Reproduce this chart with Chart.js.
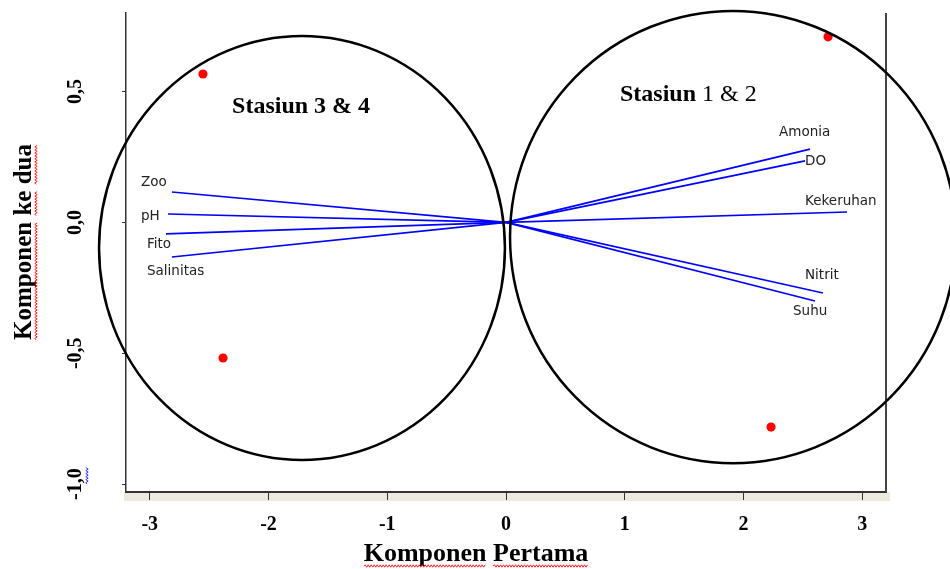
<!DOCTYPE html>
<html>
<head>
<meta charset="utf-8">
<script src="https://cdn.jsdelivr.net/npm/chart.js@4.4.1/dist/chart.umd.min.js"></script>
<style>
  html, body { margin: 0; padding: 0; background: #ffffff; }
  #wrap { width: 950px; height: 569px; }
</style>
</head>
<body>
<div id="wrap"><canvas id="biplot" width="950" height="569"></canvas></div>
<script>
// Loading vectors (arrow tips) of the water-quality variables on PC1 / PC2
const variables  = ['Zoo', 'pH', 'Fito', 'Salinitas', 'Amonia', 'DO', 'Kekeruhan', 'Nitrit', 'Suhu'];
const loadingPC1 = [-2.813, -2.846, -2.863, -2.813, 2.560, 2.518, 2.872, 2.669, 2.602];
const loadingPC2 = [0.116, 0.032, -0.044, -0.132, 0.280, 0.235, 0.040, -0.270, -0.300];

// Anchor (left edge, vertical middle) of each variable name
const labelPC1 = [-3.074, -3.074, -3.023, -3.023, 2.299, 2.518, 2.518, 2.518, 2.417];
const labelPC2 = [0.154, 0.024, -0.086, -0.186, 0.342, 0.234, 0.078, -0.201, -0.342];

// Station scores
const stationPC1 = [-2.552, 2.712, -2.383, 2.232];
const stationPC2 = [0.567, 0.709, -0.518, -0.782];

// Station groups: ellipse centre and half-axes, plus caption anchor
const groupWord    = 'Stasiun';
const groupIds     = ['3 & 4', '1 & 2'];
const groupIdBold  = [true, false];
const groupCenterX = [-1.718, 1.912];
const groupCenterY = [-0.098, -0.056];
const groupRadiusX = [1.709, 1.878];
const groupRadiusY = [0.810, 0.864];
const groupLabelX  = [-2.307, 0.960];
const groupLabelY  = [0.441, 0.487];

// Axes
const xTicks      = [-3, -2, -1, 0, 1, 2, 3];
const xTickLabels = ['-3', '-2', '-1', '0', '1', '2', '3'];
const yTicks      = [-1, -0.5, 0, 0.5];
const yTickLabels = ['-1,0', '-0,5', '0,0', '0,5'];
const xTitle = ['Komponen', 'Pertama'];
const yTitle = ['Komponen', 'ke', 'dua'];

const SERIF = '"Liberation Serif", "Times New Roman", serif';
const SANS  = '"DejaVu Sans", Verdana, sans-serif';

const vectorSets = variables.map((name, i) => ({
  type: 'line',
  label: name,
  data: [{ x: 0, y: 0 }, { x: loadingPC1[i], y: loadingPC2[i] }],
  borderColor: '#0000ff',
  borderWidth: 1.6,
  pointRadius: 0,
  showLine: true,
  fill: false,
  tension: 0,
  clip: false
}));

const stationSet = {
  type: 'scatter',
  label: 'Stasiun',
  data: stationPC1.map((x, i) => ({ x: x, y: stationPC2[i] })),
  backgroundColor: '#ff0000',
  borderColor: '#ff0000',
  borderWidth: 0,
  pointRadius: 4.6,
  clip: false
};

function squiggle(ctx, x0, x1, y, color) {
  ctx.save();
  ctx.beginPath();
  ctx.strokeStyle = color;
  ctx.lineWidth = 1;
  let up = true;
  ctx.moveTo(x0, y);
  for (let x = x0 + 1.5; x <= x1; x += 1.5) {
    ctx.lineTo(x, y + (up ? -1.2 : 1.2));
    up = !up;
  }
  ctx.stroke();
  ctx.restore();
}

function drawWords(ctx, words, cx, baseY, font, squiggleColor) {
  ctx.font = font;
  const space = ctx.measureText(' ').width;
  const widths = words.map(w => ctx.measureText(w).width);
  const total = widths.reduce((a, b) => a + b, 0) + space * (words.length - 1);
  let x = cx - total / 2;
  ctx.textAlign = 'left';
  ctx.textBaseline = 'alphabetic';
  ctx.fillStyle = '#000000';
  words.forEach((w, i) => {
    ctx.fillText(w, x, baseY);
    squiggle(ctx, x, x + widths[i], baseY + 5, squiggleColor);
    x += widths[i] + space;
  });
}

const decorations = {
  id: 'decorations',
  beforeDraw(chart) {
    const { ctx, chartArea: ca } = chart;
    ctx.save();
    ctx.fillStyle = '#ffffff';
    ctx.fillRect(0, 0, chart.width, chart.height);
    // shaded band carrying the x tick marks
    ctx.fillStyle = '#ece9df';
    ctx.fillRect(ca.left - 2, ca.bottom, ca.right - ca.left + 6, 9);
    ctx.restore();
  },
  afterDatasetsDraw(chart) {
    const { ctx, chartArea: ca } = chart;
    const xs = chart.scales.x, ys = chart.scales.y;
    ctx.save();

    // right frame line
    ctx.strokeStyle = '#444444';
    ctx.lineWidth = 2;
    ctx.beginPath();
    ctx.moveTo(ca.right, ca.top);
    ctx.lineTo(ca.right, ca.bottom);
    ctx.stroke();

    // group ellipses
    ctx.strokeStyle = '#000000';
    ctx.lineWidth = 2.5;
    groupCenterX.forEach((cx, i) => {
      const px = xs.getPixelForValue(cx);
      const py = ys.getPixelForValue(groupCenterY[i]);
      const rx = Math.abs(xs.getPixelForValue(cx + groupRadiusX[i]) - px);
      const ry = Math.abs(ys.getPixelForValue(groupCenterY[i] + groupRadiusY[i]) - py);
      ctx.beginPath();
      ctx.ellipse(px, py, rx, ry, 0, 0, Math.PI * 2);
      ctx.stroke();
    });

    // variable names
    ctx.font = '13.5px ' + SANS;
    ctx.fillStyle = '#222222';
    ctx.textAlign = 'left';
    ctx.textBaseline = 'middle';
    variables.forEach((name, i) => {
      ctx.fillText(name, xs.getPixelForValue(labelPC1[i]), ys.getPixelForValue(labelPC2[i]));
    });

    // group captions
    ctx.fillStyle = '#000000';
    groupIds.forEach((id, i) => {
      const x = xs.getPixelForValue(groupLabelX[i]);
      const y = ys.getPixelForValue(groupLabelY[i]);
      ctx.font = 'bold 24px ' + SERIF;
      const wWord = ctx.measureText(groupWord + ' ').width;
      ctx.fillText(groupWord + ' ', x, y);
      ctx.font = (groupIdBold[i] ? 'bold ' : '') + '24px ' + SERIF;
      ctx.fillText(id, x + wWord, y);
    });

    // axis titles
    drawWords(ctx, xTitle, 476, 561, 'bold 26px ' + SERIF, '#ff2020');
    ctx.save();
    ctx.translate(31, 242);
    ctx.rotate(-Math.PI / 2);
    drawWords(ctx, yTitle, 0, 0, 'bold 25px ' + SERIF, '#ff2020');
    ctx.restore();

    // proofing mark beside the lowest y tick label
    const yb = ys.getPixelForValue(yTicks[0]);
    ctx.save();
    ctx.translate(87, yb);
    ctx.rotate(-Math.PI / 2);
    squiggle(ctx, 0, 17, 0, '#3030ff');
    ctx.restore();

    ctx.restore();
  }
};

new Chart(document.getElementById('biplot'), {
  type: 'scatter',
  data: { datasets: [...vectorSets, stationSet] },
  options: {
    responsive: false,
    animation: false,
    layout: { padding: { left: 0, right: 64, top: 13, bottom: 0 } },
    plugins: { legend: { display: false }, tooltip: { enabled: false } },
    scales: {
      x: {
        type: 'linear',
        min: -3.2,
        max: 3.2,
        afterBuildTicks: s => { s.ticks = xTicks.map(v => ({ value: v })); },
        afterFit: s => { s.height = 77; s.paddingLeft = 0; s.paddingRight = 0; },
        ticks: {
          autoSkip: false,
          maxRotation: 0,
          padding: 13,
          color: '#000000',
          font: { family: SERIF, size: 20, weight: 'bold' },
          callback: v => xTickLabels[xTicks.indexOf(v)]
        },
        grid: { display: true, drawOnChartArea: false, drawTicks: true, tickLength: 8, color: '#333333', tickWidth: 1 },
        border: { display: true, color: '#333333', width: 2 }
      },
      y: {
        type: 'linear',
        min: -1.03,
        max: 0.8,
        afterBuildTicks: s => { s.ticks = yTicks.map(v => ({ value: v })); },
        afterFit: s => { s.width = 126; s.paddingTop = 0; s.paddingBottom = 0; },
        ticks: {
          autoSkip: false,
          minRotation: 90,
          maxRotation: 90,
          crossAlign: 'center',
          padding: 30,
          color: '#000000',
          font: { family: SERIF, size: 20, weight: 'bold' },
          callback: v => yTickLabels[yTicks.indexOf(v)]
        },
        grid: { display: true, drawOnChartArea: false, drawTicks: true, tickLength: 4, color: '#333333', tickWidth: 1 },
        border: { display: true, color: '#333333', width: 1.5 }
      }
    }
  },
  plugins: [decorations]
});
</script>
</body>
</html>
